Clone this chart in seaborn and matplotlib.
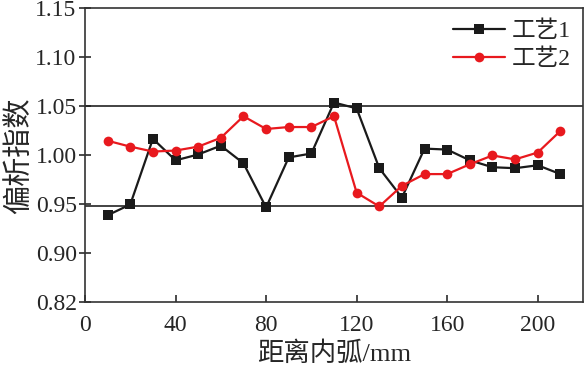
"""Segregation index along the distance from the inner arc, two processes."""

import matplotlib

matplotlib.use("Agg")
import matplotlib.pyplot as plt
import pandas as pd
import seaborn as sns

# Data
distance = [10, 20, 30, 40, 50, 60, 70, 80, 90, 100, 110,
            120, 130, 140, 150, 160, 170, 180, 190, 200, 210]
process_1 = [0.939, 0.950, 1.017, 0.995, 1.001, 1.010, 0.992, 0.947, 0.998, 1.002, 1.054,
             1.048, 0.987, 0.957, 1.007, 1.006, 0.995, 0.988, 0.987, 0.990, 0.981]
process_2 = [1.015, 1.009, 1.004, 1.005, 1.009, 1.018, 1.040, 1.027, 1.029, 1.029, 1.040,
             0.962, 0.948, 0.969, 0.981, 0.981, 0.991, 1.000, 0.996, 1.003, 1.025]
series_names = ["工艺1", "工艺2"]
x_ticks = [0, 40, 80, 120, 160, 200]
y_ticks = [0.85, 0.90, 0.95, 1.00, 1.05, 1.10, 1.15]
y_tick_labels = ["0.82", "0.90", "0.95", "1.00", "1.05", "1.10", "1.15"]
limit_lines = [1.05, 0.948]

sns.set_theme(style="white")
plt.rcParams["font.family"] = ["Liberation Serif", "Noto Sans CJK SC"]
plt.rcParams["axes.unicode_minus"] = False

df = pd.DataFrame({
    "distance": distance * 2,
    "index": process_1 + process_2,
    "process": [series_names[0]] * len(distance) + [series_names[1]] * len(distance),
})

fig = plt.figure(figsize=(5.85, 3.66), dpi=100)
ax = fig.add_axes([0.1453, 0.1735, 0.8513, 0.8035])

for y in limit_lines:
    ax.axhline(y, color="#222222", linewidth=1.2, zorder=1)

sns.lineplot(
    data=df, x="distance", y="index", hue="process", style="process",
    palette=["#1a1a1a", "#e8191e"], markers=["s", "o"], dashes=False,
    markersize=7, markeredgewidth=0, linewidth=1.6, ax=ax, zorder=3,
)

ax.set_xlim(0, 220)
ax.set_ylim(0.85, 1.15)
ax.set_xticks(x_ticks)
ax.set_yticks(y_ticks)
ax.set_yticklabels(y_tick_labels)
ax.tick_params(axis="x", direction="in", length=5, labelsize=17, pad=9, color="#333333")
ax.tick_params(axis="y", direction="inout", length=8, labelsize=17, pad=2, color="#333333")
ax.tick_params(left=True, bottom=True)

for spine in ax.spines.values():
    spine.set_color("#333333")
    spine.set_linewidth(1.2)

ax.set_xlabel("距离内弧/mm", fontsize=19, labelpad=4)
ax.set_ylabel("偏析指数", fontsize=21, labelpad=2)

ax.legend(
    loc="upper right", frameon=False, fontsize=17, handlelength=2.2,
    handletextpad=0.3, labelspacing=0.3, borderaxespad=0.1,
)

plt.savefig("out.png", dpi=100)
plt.close()
